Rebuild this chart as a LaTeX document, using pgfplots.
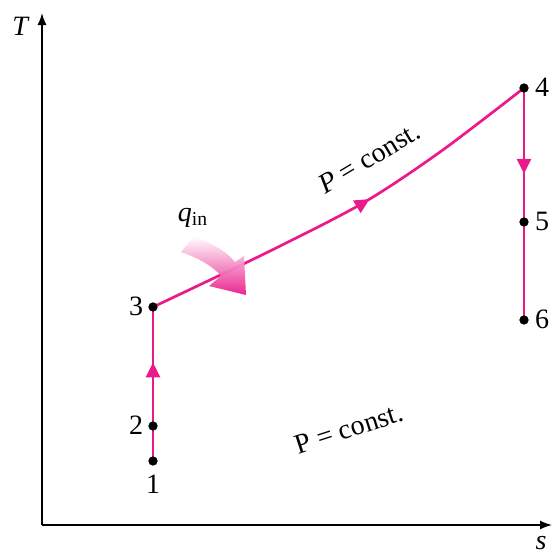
\documentclass[border=0pt]{standalone}
\usepackage{pgfplots}
\pgfplotsset{compat=1.18}
\usepackage{fontspec}
\setmainfont{Liberation Serif}
\usetikzlibrary{arrows.meta,decorations.markings}
\definecolor{mag}{RGB}{234,26,138}
\begin{document}
\begin{tikzpicture}[font=\fontsize{14}{16}\selectfont]
\begin{axis}[
  scale only axis, width=276pt, height=278.5pt,
  xmin=0, xmax=552, ymin=0, ymax=557, y dir=reverse,
  hide axis, clip=false,
]
\coordinate (SW) at (axis cs:0,557);
\coordinate (NE) at (axis cs:552,0);
% axes
\addplot[black, line width=0.75pt, -{Latex[length=6pt,width=4.5pt]}] coordinates {(42,525) (42,13)};
\addplot[black, line width=0.75pt, -{Latex[length=6pt,width=4.5pt]}] coordinates {(42,525) (552,525)};
% process lines
\addplot[mag, line width=1.35pt,
  postaction={decorate}, decoration={markings, mark=at position 0.64 with {\arrow{Triangle[length=7.5pt,width=7pt]}}}]
  coordinates {(153,461) (153,307)};
\addplot[mag, line width=1.35pt, smooth, tension=0.5,
  postaction={decorate}, decoration={markings, mark=at position 0.56 with {\arrow{Triangle[length=7.5pt,width=7pt]}}}]
  coordinates {(153,307) (268,252) (363,203) (440,152) (524,88)};
\addplot[mag, line width=1.35pt,
  postaction={decorate}, decoration={markings, mark=at position 0.37 with {\arrow{Triangle[length=7.5pt,width=7pt]}}}]
  coordinates {(524,88) (524,320)};
% state points
\addplot[only marks, mark=*, mark size=2.1pt, black] coordinates {(153,461) (153,426) (153,307) (524,88) (524,222) (524,320)};
% labels
\node at (axis cs:153,484) {1};
\node at (axis cs:136,425) {2};
\node at (axis cs:136,306) {3};
\node at (axis cs:542,87) {4};
\node at (axis cs:542,221) {5};
\node at (axis cs:542,319) {6};
\node at (axis cs:21,26) {\textit{T}};
\node at (axis cs:541,543) {\textit{s}};
\node[rotate=31] at (axis cs:369,158) {\textit{P} = const.};
\node[rotate=18] at (axis cs:349,429) {P = const.};
\node at (axis cs:193,218) {\textit{q}\textsubscript{in}};
% q_in arrow
\shade[left color=white, right color=mag, shading angle=0, opacity=0.95]
  (axis cs:194,236) .. controls (axis cs:214,244) and (axis cs:228,253) .. (axis cs:235,262)
  -- (axis cs:244,256) -- (axis cs:246,295) -- (axis cs:209,286) -- (axis cs:221,276)
  .. controls (axis cs:213,266) and (axis cs:198,258) .. (axis cs:181,252) -- cycle;
\end{axis}
\pgfresetboundingbox
\path (SW) rectangle (NE);
\end{tikzpicture}
\end{document}
